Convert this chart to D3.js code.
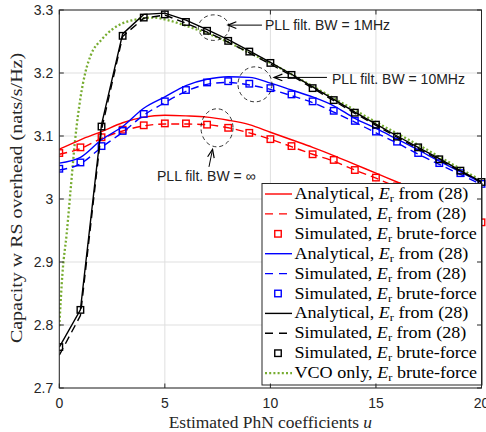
<!DOCTYPE html>
<html><head><meta charset="utf-8">
<script src="https://cdn.jsdelivr.net/npm/d3@7"></script>
<style>
html,body{margin:0;padding:0;background:#fff;}
svg{display:block;}
</style></head>
<body>
<svg id="chart" width="486" height="432"></svg>
<script>
// ---------- data ----------
const uInt = d3.range(0, 21);
const xTicks = [0, 5, 10, 15, 20];
const yTicks = [2.7, 2.8, 2.9, 3.0, 3.1, 3.2, 3.3];
const yTickLabels = ["2.7", "2.8", "2.9", "3", "3.1", "3.2", "3.3"];

// PLL filt. BW = infinity (red)
const redAnalytical = [3.079, 3.094, 3.107, 3.121, 3.130, 3.133, 3.132, 3.130, 3.125, 3.118, 3.106, 3.094, 3.082, 3.069, 3.055, 3.041, 3.027, 3.013, 2.999, 2.985, 2.970];
const redSimulated  = [3.071, 3.080, 3.096, 3.108, 3.116, 3.119, 3.119, 3.118, 3.113, 3.105, 3.095, 3.083, 3.071, 3.060, 3.046, 3.033, 3.019, 3.005, 2.990, 2.976, 2.962];
const redBrute      = [3.073, 3.082, 3.098, 3.110, 3.117, 3.120, 3.120, 3.118, 3.113, 3.105, 3.095, 3.084, 3.071, 3.062, 3.046, 3.034, 3.020, 3.006, 2.991, 2.977, 2.963];

// PLL filt. BW = 10MHz (blue)
const blueAnalytical = [3.057, 3.066, 3.094, 3.115, 3.144, 3.162, 3.180, 3.190, 3.194, 3.193, 3.184, 3.173, 3.162, 3.148, 3.128, 3.112, 3.095, 3.078, 3.060, 3.043, 3.026];
const blueSimulated  = [3.046, 3.056, 3.082, 3.106, 3.133, 3.153, 3.171, 3.182, 3.185, 3.181, 3.174, 3.164, 3.153, 3.138, 3.122, 3.105, 3.089, 3.071, 3.055, 3.039, 3.023];
const blueBrute      = [3.048, 3.058, 3.084, 3.108, 3.135, 3.155, 3.173, 3.185, 3.187, 3.183, 3.176, 3.166, 3.155, 3.140, 3.124, 3.107, 3.091, 3.073, 3.057, 3.041, 3.024];

// PLL filt. BW = 1MHz (black)
const blackAnalytical = [2.765, 2.824, 3.118, 3.262, 3.293, 3.295, 3.284, 3.269, 3.253, 3.235, 3.217, 3.198, 3.178, 3.158, 3.138, 3.119, 3.100, 3.082, 3.064, 3.045, 3.027];
const blackSimulated  = [2.752, 2.815, 3.110, 3.258, 3.287, 3.292, 3.279, 3.265, 3.249, 3.232, 3.214, 3.196, 3.176, 3.156, 3.136, 3.117, 3.098, 3.080, 3.062, 3.044, 3.026];
const blackBrute      = [2.765, 2.824, 3.115, 3.259, 3.288, 3.293, 3.281, 3.267, 3.251, 3.234, 3.216, 3.197, 3.176, 3.157, 3.137, 3.118, 3.099, 3.082, 3.063, 3.045, 3.027];

// VCO only (green dotted)
const vcoU      = [0, 0.15, 0.35, 0.55, 0.75, 1, 1.25, 1.5, 2, 2.5, 3, 3.5, 4, 4.5, 5, 6, 7, 8, 9, 10, 11, 12, 13, 14, 15, 16, 17, 18, 19, 20];
const vcoValues = [2.798, 2.882, 2.945, 3.020, 3.094, 3.160, 3.203, 3.229, 3.253, 3.269, 3.279, 3.284, 3.287, 3.288, 3.285, 3.275, 3.263, 3.249, 3.232, 3.216, 3.198, 3.179, 3.160, 3.141, 3.122, 3.104, 3.086, 3.067, 3.048, 3.029];

const legendLabels = [
  ["Analytical, ", " from (28)"],
  ["Simulated, ", " from (28)"],
  ["Simulated, ", " brute-force"],
  ["Analytical, ", " from (28)"],
  ["Simulated, ", " from (28)"],
  ["Simulated, ", " brute-force"],
  ["Analytical, ", " from (28)"],
  ["Simulated, ", " from (28)"],
  ["Simulated, ", " brute-force"],
  ["VCO only, ", " brute-force"]
];

// annotations (data units)
const annotations = [
  {cx: 7.32, cy: 3.272, rx: 0.73, ry: 0.0203, tip: [7.99, 3.276], tail: [9.6, 3.276], text: "PLL filt. BW = 1MHz", tx: 9.74, ty: 3.268},
  {cx: 9.27, cy: 3.182, rx: 0.805, ry: 0.0278, tip: [10.17, 3.193], tail: [12.68, 3.193], text: "PLL filt. BW = 10MHz", tx: 12.92, ty: 3.183},
  {cx: 7.47, cy: 3.113, rx: 0.758, ry: 0.0302, tip: [7.26, 3.079], tail: [7.09, 3.051], text: "PLL filt. BW = \u221E", tx: 4.63, ty: 3.029}
];

// ---------- layout ----------
const svg = d3.select("#chart");
const L = 59.3, R = 481.5, T = 10, B = 388;
const x = d3.scaleLinear().domain([0, 20]).range([L, R]);
const y = d3.scaleLinear().domain([2.7, 3.3]).range([B, T]);

const sansFont = "'Liberation Sans', Arial, Helvetica, sans-serif";
const serifFont = "'Liberation Serif', 'Times New Roman', serif";
const axisColor = "#262626";
const green = "#77AC30";

// grid
const grid = svg.append("g");
grid.selectAll("line.gx").data(xTicks).enter().append("line")
  .attr("x1", d => x(d)).attr("x2", d => x(d)).attr("y1", T).attr("y2", B)
  .attr("stroke", "#dfdfdf").attr("stroke-width", 1);
grid.selectAll("line.gy").data(yTicks).enter().append("line")
  .attr("y1", d => y(d)).attr("y2", d => y(d)).attr("x1", L).attr("x2", R)
  .attr("stroke", "#dfdfdf").attr("stroke-width", 1);

svg.append("clipPath").attr("id", "clip").append("rect")
  .attr("x", L).attr("y", T - 1).attr("width", R - L + 5).attr("height", B - T + 2);

const plot = svg.append("g").attr("clip-path", "url(#clip)");
const lineGen = d3.line().x(d => x(d[0])).y(d => y(d[1]));
const smoothGen = d3.line().x(d => x(d[0])).y(d => y(d[1])).curve(d3.curveMonotoneX);

function drawLine(vals, color, dash, gen) {
  plot.append("path").datum(uInt.map((u, i) => [u, vals[i]]))
    .attr("d", gen || lineGen).attr("fill", "none")
    .attr("stroke", color).attr("stroke-width", 1.4)
    .attr("stroke-dasharray", dash || null);
}
function drawMarkers(vals, color) {
  const s = 6.5;
  plot.selectAll(null).data(uInt.map((u, i) => [u, vals[i]])).enter().append("rect")
    .attr("x", d => x(d[0]) - s / 2).attr("y", d => y(d[1]) - s / 2)
    .attr("width", s).attr("height", s)
    .attr("fill", "none").attr("stroke", color).attr("stroke-width", 1.4);
}

// green VCO
plot.append("path").datum(vcoU.map((u, i) => [u, vcoValues[i]]))
  .attr("d", smoothGen).attr("fill", "none")
  .attr("stroke", green).attr("stroke-width", 2.3)
  .attr("stroke-dasharray", "2,2.2");

drawLine(redAnalytical, "#ff0000", null, smoothGen);
drawLine(redSimulated, "#ff0000", "8,5", smoothGen);
drawMarkers(redBrute, "#ff0000");
drawLine(blueAnalytical, "#0000ff", null, smoothGen);
drawLine(blueSimulated, "#0000ff", "8,5", smoothGen);
drawMarkers(blueBrute, "#0000ff");
drawLine(blackAnalytical, "#000000", null);
drawLine(blackSimulated, "#000000", "8,5");
drawMarkers(blackBrute, "#000000");

// annotations
const ann = svg.append("g");
annotations.forEach(a => {
  ann.append("ellipse")
    .attr("cx", x(a.cx)).attr("cy", y(a.cy))
    .attr("rx", x(a.cx + a.rx) - x(a.cx)).attr("ry", y(a.cy - a.ry) - y(a.cy))
    .attr("fill", "none").attr("stroke", "#000").attr("stroke-width", 0.8)
    .attr("stroke-dasharray", "4,3");
  const tx = x(a.tip[0]), ty = y(a.tip[1]), sx = x(a.tail[0]), sy = y(a.tail[1]);
  ann.append("line").attr("x1", sx).attr("y1", sy).attr("x2", tx).attr("y2", ty)
    .attr("stroke", "#000").attr("stroke-width", 1);
  const ang = Math.atan2(ty - sy, tx - sx);
  const hl = 9, hw = 0.38;
  const p1 = [tx - hl * Math.cos(ang - hw), ty - hl * Math.sin(ang - hw)];
  const p2 = [tx - hl * Math.cos(ang + hw), ty - hl * Math.sin(ang + hw)];
  ann.append("path").attr("d", `M${p1[0]},${p1[1]}L${tx},${ty}L${p2[0]},${p2[1]}`)
    .attr("fill", "none").attr("stroke", "#000").attr("stroke-width", 1.2);
  ann.append("text").attr("x", x(a.tx)).attr("y", y(a.ty))
    .attr("font-family", sansFont).attr("font-size", 14).attr("fill", "#222")
    .text(a.text);
});

// legend
const legX = 262, legY = 183.5, legW = 220, legH = 201.5, rowH = 19.9;
const leg = svg.append("g");
leg.append("rect").attr("x", legX).attr("y", legY).attr("width", legW).attr("height", legH)
  .attr("fill", "#fff").attr("stroke", axisColor).attr("stroke-width", 1);
const legendStyles = [
  {c: "#ff0000", t: "line"}, {c: "#ff0000", t: "dash"}, {c: "#ff0000", t: "mark"},
  {c: "#0000ff", t: "line"}, {c: "#0000ff", t: "dash"}, {c: "#0000ff", t: "mark"},
  {c: "#000000", t: "line"}, {c: "#000000", t: "dash"}, {c: "#000000", t: "mark"},
  {c: green, t: "dot"}
];
legendLabels.forEach((lab, i) => {
  const cy = legY + 10.5 + i * rowH;
  const st = legendStyles[i];
  if (st.t === "mark") {
    leg.append("rect").attr("x", 278 - 3.25).attr("y", cy - 3.25).attr("width", 6.5).attr("height", 6.5)
      .attr("fill", "none").attr("stroke", st.c).attr("stroke-width", 1.4);
  } else {
    leg.append("line").attr("x1", 265).attr("x2", 292).attr("y1", cy).attr("y2", cy)
      .attr("stroke", st.c).attr("stroke-width", st.t === "dot" ? 2.3 : 1.4)
      .attr("stroke-dasharray", st.t === "dash" ? "8,6" : (st.t === "dot" ? "2,2.2" : null));
  }
  const t = leg.append("text").attr("transform", `translate(294.5,${cy + 5}) scale(1.13,1)`)
    .attr("font-family", serifFont).attr("font-size", 16).attr("fill", "#000");
  t.append("tspan").text(lab[0]);
  t.append("tspan").attr("font-style", "italic").text("E");
  t.append("tspan").attr("font-size", 11).attr("dy", 3).text("r");
  t.append("tspan").attr("dy", -3).text(lab[1]);
});

// axes box
const axes = svg.append("g");
axes.append("rect").attr("x", L).attr("y", T).attr("width", R - L).attr("height", B - T)
  .attr("fill", "none").attr("stroke", axisColor).attr("stroke-width", 1);
xTicks.forEach(d => {
  axes.append("line").attr("x1", x(d)).attr("x2", x(d)).attr("y1", B).attr("y2", B - 4.5).attr("stroke", axisColor);
  axes.append("line").attr("x1", x(d)).attr("x2", x(d)).attr("y1", T).attr("y2", T + 4.5).attr("stroke", axisColor);
});
yTicks.forEach(d => {
  axes.append("line").attr("y1", y(d)).attr("y2", y(d)).attr("x1", L).attr("x2", L + 4.5).attr("stroke", axisColor);
  axes.append("line").attr("y1", y(d)).attr("y2", y(d)).attr("x1", R).attr("x2", R - 4.5).attr("stroke", axisColor);
});
axes.selectAll("text.xt").data(xTicks).enter().append("text")
  .attr("x", d => x(d)).attr("y", B + 20).attr("text-anchor", "middle")
  .attr("font-family", sansFont).attr("font-size", 14).attr("fill", axisColor)
  .text(d => d);
axes.selectAll("text.yt").data(yTicks).enter().append("text")
  .attr("x", L - 6).attr("y", d => y(d) + 5).attr("text-anchor", "end")
  .attr("font-family", sansFont).attr("font-size", 14).attr("fill", axisColor)
  .text((d, i) => yTickLabels[i]);

// axis labels
const xl = svg.append("text").attr("transform", `translate(${(L + R) / 2},428) scale(1.09,1)`)
  .attr("text-anchor", "middle")
  .attr("font-family", serifFont).attr("font-size", 16).attr("fill", axisColor);
xl.append("tspan").text("Estimated PhN coefficients ");
xl.append("tspan").attr("font-style", "italic").text("u");

svg.append("text").attr("transform", `translate(22,198) rotate(-90) scale(1.14,1)`)
  .attr("text-anchor", "middle")
  .attr("font-family", serifFont).attr("font-size", 17.5).attr("fill", axisColor)
  .text("Capacity w RS overhead (nats/s/Hz)");
</script>
</body></html>
